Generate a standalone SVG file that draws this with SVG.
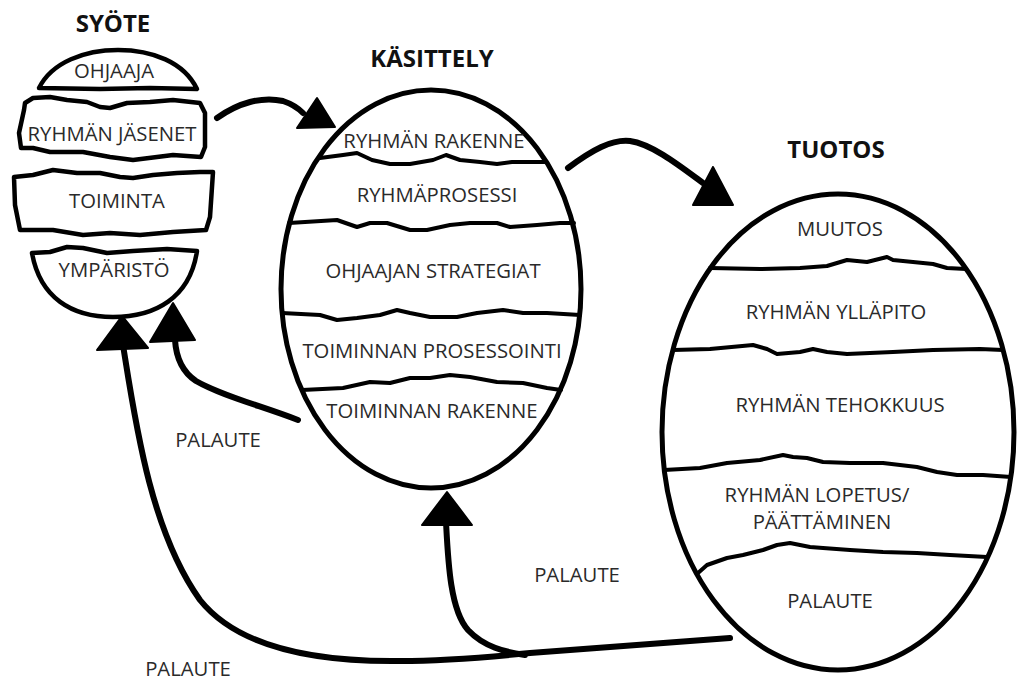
<svg xmlns="http://www.w3.org/2000/svg" width="1019" height="683" viewBox="0 0 1019 683">
<defs>
<style>
.bg{fill:#fff}
.piece{fill:#fff;stroke:#000;stroke-width:4.5;stroke-linejoin:round;stroke-linecap:round}
.egg{fill:#fff;stroke:#000;stroke-width:5}
.rag{fill:none;stroke:#000;stroke-width:4;stroke-linejoin:round;stroke-linecap:round}
.conn{fill:none;stroke:#000;stroke-width:6;stroke-linecap:round;stroke-linejoin:round}
.head{fill:#000;stroke:#000;stroke-width:2;stroke-linejoin:round}
.t{font-family:"Open Sans","Liberation Sans",sans-serif;font-size:20.3px;fill:#2a2a2a;text-anchor:middle}
.title{font-family:"Open Sans","Liberation Sans",sans-serif;font-size:24px;font-weight:bold;fill:#111;text-anchor:middle}
</style>
</defs>
<rect class="bg" x="0" y="0" width="1019" height="683"/>

<g id="syote">
<text class="title" x="113" y="32">SYÖTE</text>
<path class="piece" d="M39,88 C 52,62 85,50 118,50 C 152,50 184,62 197,89 L150,88 L100,89 Z"/>
<path class="piece" d="M25,103 L33,98 L50,97 L67,100 L87,102 L100,107 L110,108 L127,103 L150,102 L173,100 L200,103 L205,113 L205,147 L201,157 L173,155 L133,160 L110,157 L83,152 L50,152 L33,148 L21,148 L19,133 L24,110 Z"/>
<path class="piece" d="M14,177 L33,175 L53,170 L77,173 L100,173 L120,177 L133,178 L153,175 L177,173 L200,172 L213,172 L210,217 L206,230 L173,232 L140,235 L110,233 L83,235 L53,230 L30,230 L20,230 L15,205 Z"/>
<path class="piece" d="M32,253 L50,252 L67,247 L83,248 L107,253 L133,251 L167,249 L197,251 C 190,298 155,317 113,317 C 72,317 40,298 32,253 Z"/>
<text class="t" x="114" y="78">OHJAAJA</text>
<text class="t" x="112" y="141">RYHMÄN JÄSENET</text>
<text class="t" x="117" y="208">TOIMINTA</text>
<text class="t" x="114" y="277">YMPÄRISTÖ</text>
</g>

<g id="kasittely">
<text class="title" x="432" y="67">KÄSITTELY</text>
<ellipse class="egg" cx="431" cy="289" rx="150" ry="199"/>
<path class="rag" d="M320,158 L343,155 L357,153 L372,160 L390,164 L410,164 L433,160 L446,155 L460,160 L480,162 L497,164 L512,162 L546,162"/>
<path class="rag" d="M289,223 L337,220 L357,227 L370,223 L387,223 L410,230 L427,230 L450,225 L470,223 L497,223 L510,227 L537,225 L560,223 L574,223"/>
<path class="rag" d="M282,313 L320,315 L337,320 L357,318 L380,315 L397,310 L410,313 L430,317 L457,317 L477,313 L503,310 L523,313 L547,313 L580,315"/>
<path class="rag" d="M302,390 L343,388 L370,382 L390,383 L410,378 L430,378 L450,375 L470,377 L497,382 L523,383 L547,388 L561,390"/>
<text class="t" x="434" y="148">RYHMÄN RAKENNE</text>
<text class="t" x="437" y="202">RYHMÄPROSESSI</text>
<text class="t" x="433" y="278">OHJAAJAN STRATEGIAT</text>
<text class="t" x="432" y="358">TOIMINNAN PROSESSOINTI</text>
<text class="t" x="432" y="418">TOIMINNAN RAKENNE</text>
</g>

<g id="tuotos">
<text class="title" x="836" y="158">TUOTOS</text>
<ellipse class="egg" cx="838" cy="432" rx="176" ry="238"/>
<path class="rag" d="M710,268 L760,269 L800,268 L827,266 L847,260 L867,262 L887,257 L893,260 L913,262 L933,264 L947,268 L966,269"/>
<path class="rag" d="M673,350 L710,349 L753,345 L767,349 L777,354 L800,352 L813,349 L827,352 L847,354 L893,352 L933,350 L980,349 L1003,350"/>
<path class="rag" d="M664,470 L700,468 L727,463 L760,460 L783,455 L793,457 L807,458 L823,462 L850,463 L883,463 L917,467 L937,472 L957,475 L983,475 L1011,477"/>
<path class="rag" d="M698,573 L707,565 L727,558 L743,555 L763,550 L777,545 L790,543 L810,547 L823,548 L850,550 L883,552 L917,553 L950,555 L987,557"/>
<text class="t" x="840" y="236">MUUTOS</text>
<text class="t" x="836" y="319">RYHMÄN YLLÄPITO</text>
<text class="t" x="840" y="412">RYHMÄN TEHOKKUUS</text>
<text class="t" x="817" y="502">RYHMÄN LOPETUS/</text>
<text class="t" x="822" y="529">PÄÄTTÄMINEN</text>
<text class="t" x="830" y="608">PALAUTE</text>
</g>

<g id="connectors">
<path class="conn" d="M217,118 C 238,103 262,96 283,101 C 292,104 298,108 303,113"/>
<polygon class="head" points="317,98 297,128 335,127"/>
<path class="conn" d="M568,168 C 592,150 612,139 630,141 C 652,144 680,166 703,183"/>
<polygon class="head" points="713,167 693,205 733,205"/>
<path class="conn" d="M123,345 C 135,420 150,530 200,600 C 240,650 320,662 400,661 C 450,661 500,656 530,653 L730,638"/>
<polygon class="head" points="122,316 97,350 148,348"/>
<path class="conn" d="M446,522 C 448,560 450,610 468,630 C 484,647 505,652 525,655"/>
<polygon class="head" points="447,492 422,525 472,525"/>
<path class="conn" d="M298,420 C 262,406 222,396 196,381 C 181,371 176,356 175,340"/>
<polygon class="head" points="173,303 150,342 195,340"/>
</g>

<g id="labels">
<text class="t" x="218" y="447">PALAUTE</text>
<text class="t" x="577" y="582">PALAUTE</text>
<text class="t" x="188" y="676">PALAUTE</text>
</g>
</svg>
